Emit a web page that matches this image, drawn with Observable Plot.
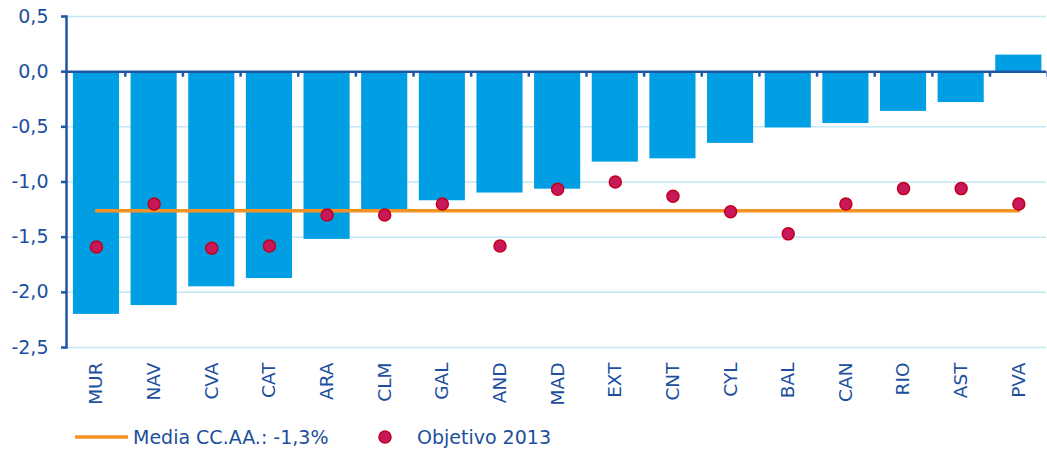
<!DOCTYPE html>
<html>
<head>
<meta charset="utf-8">
<script src="https://cdn.jsdelivr.net/npm/d3@7"></script>
<script src="https://cdn.jsdelivr.net/npm/@observablehq/plot@0.6"></script>
<style>
  body { margin: 0; background: #fff; font-family: "DejaVu Sans", sans-serif; }
  #wrap { position: relative; width: 1047px; height: 450px; }
  #legend { position: absolute; left: 0; top: 424px; width: 1047px; height: 26px; }
</style>
</head>
<body>
<div id="wrap">
  <div id="chart"></div>
  <svg id="legend" width="1047" height="26"></svg>
</div>
<script>
const categories = ["MUR","NAV","CVA","CAT","ARA","CLM","GAL","AND","MAD","EXT","CNT","CYL","BAL","CAN","RIO","AST","PVA"];
const deficit = [-2.2,-2.12,-1.95,-1.875,-1.52,-1.25,-1.17,-1.10,-1.065,-0.82,-0.79,-0.65,-0.51,-0.47,-0.36,-0.28,0.15];
const objetivo = [-1.59,-1.2,-1.6,-1.58,-1.3,-1.3,-1.2,-1.58,-1.065,-1.0,-1.13,-1.27,-1.47,-1.2,-1.06,-1.06,-1.2];
const media = -1.26;
const yTicks = [-2.5,-2.0,-1.5,-1.0,-0.5,0.0,0.5];
const legendLabels = ["Media CC.AA.: -1,3%", "Objetivo 2013"];

const bars = categories.map((c, i) => ({cat: c, value: deficit[i]}));
const dots = categories.map((c, i) => ({cat: c, value: objetivo[i]}));
const mediaLine = categories.map(c => ({cat: c, value: media}));

const W = 1047, mL = 66, mR = 1;
const step = (W - mL - mR) / categories.length;
const blue = "#1c4f9e";
const axisBlue = "#1f55a5";
const font = "DejaVu Sans, sans-serif";
const fmt = d => d.toFixed(1).replace(".", ",");

const chart = Plot.plot({
  width: W,
  height: 415,
  marginLeft: mL,
  marginRight: mR,
  marginTop: 16,
  marginBottom: 68,
  style: {fontFamily: font, background: "#fff"},
  x: {domain: categories, paddingInner: 0.2, paddingOuter: 0.1, round: false, align: 0.6},
  y: {domain: [-2.5, 0.5]},
  marks: [
    Plot.ruleY(yTicks, {stroke: "#c4e7f6", strokeWidth: 1.5}),
    Plot.barY(bars, {x: "cat", y: "value", fill: "#009fe3"}),
    Plot.ruleY([0], {stroke: axisBlue, strokeWidth: 2.5}),
    Plot.ruleX(categories, {x: d => d, dx: step / 2, y1: 0, y2: -0.05, stroke: axisBlue, strokeWidth: 2.5}),
    Plot.frame({anchor: "left", stroke: axisBlue, strokeWidth: 2.5}),
    Plot.lineY(mediaLine, {x: "cat", y: "value", stroke: "#f39325", strokeWidth: 3.5}),
    Plot.dot(dots, {x: "cat", y: "value", r: 6, fill: "#c8185a", stroke: "#c0001e", strokeWidth: 1.5}),
    Plot.axisY({ticks: yTicks, tickFormat: fmt, tickSize: 5, tickPadding: 13, stroke: axisBlue, strokeWidth: 2.5, fill: blue, fontSize: 19, label: null}),
    Plot.axisX({tickRotate: -90, tickSize: 0, tickPadding: 15, fill: blue, fontSize: 18.5, label: null})
  ]
});
document.getElementById("chart").appendChild(chart);

const lg = d3.select("#legend");
lg.append("line").attr("x1", 75).attr("x2", 128).attr("y1", 13).attr("y2", 13)
  .attr("stroke", "#f39325").attr("stroke-width", 3.5);
lg.append("text").attr("x", 133).attr("y", 13).attr("dy", "0.36em")
  .attr("fill", blue).attr("font-size", 19).attr("font-family", font).text(legendLabels[0]);
lg.append("circle").attr("cx", 385).attr("cy", 13).attr("r", 6)
  .attr("fill", "#c8185a").attr("stroke", "#c0001e").attr("stroke-width", 1.5);
lg.append("text").attr("x", 417).attr("y", 13).attr("dy", "0.36em")
  .attr("fill", blue).attr("font-size", 19).attr("font-family", font).text(legendLabels[1]);
</script>
</body>
</html>
